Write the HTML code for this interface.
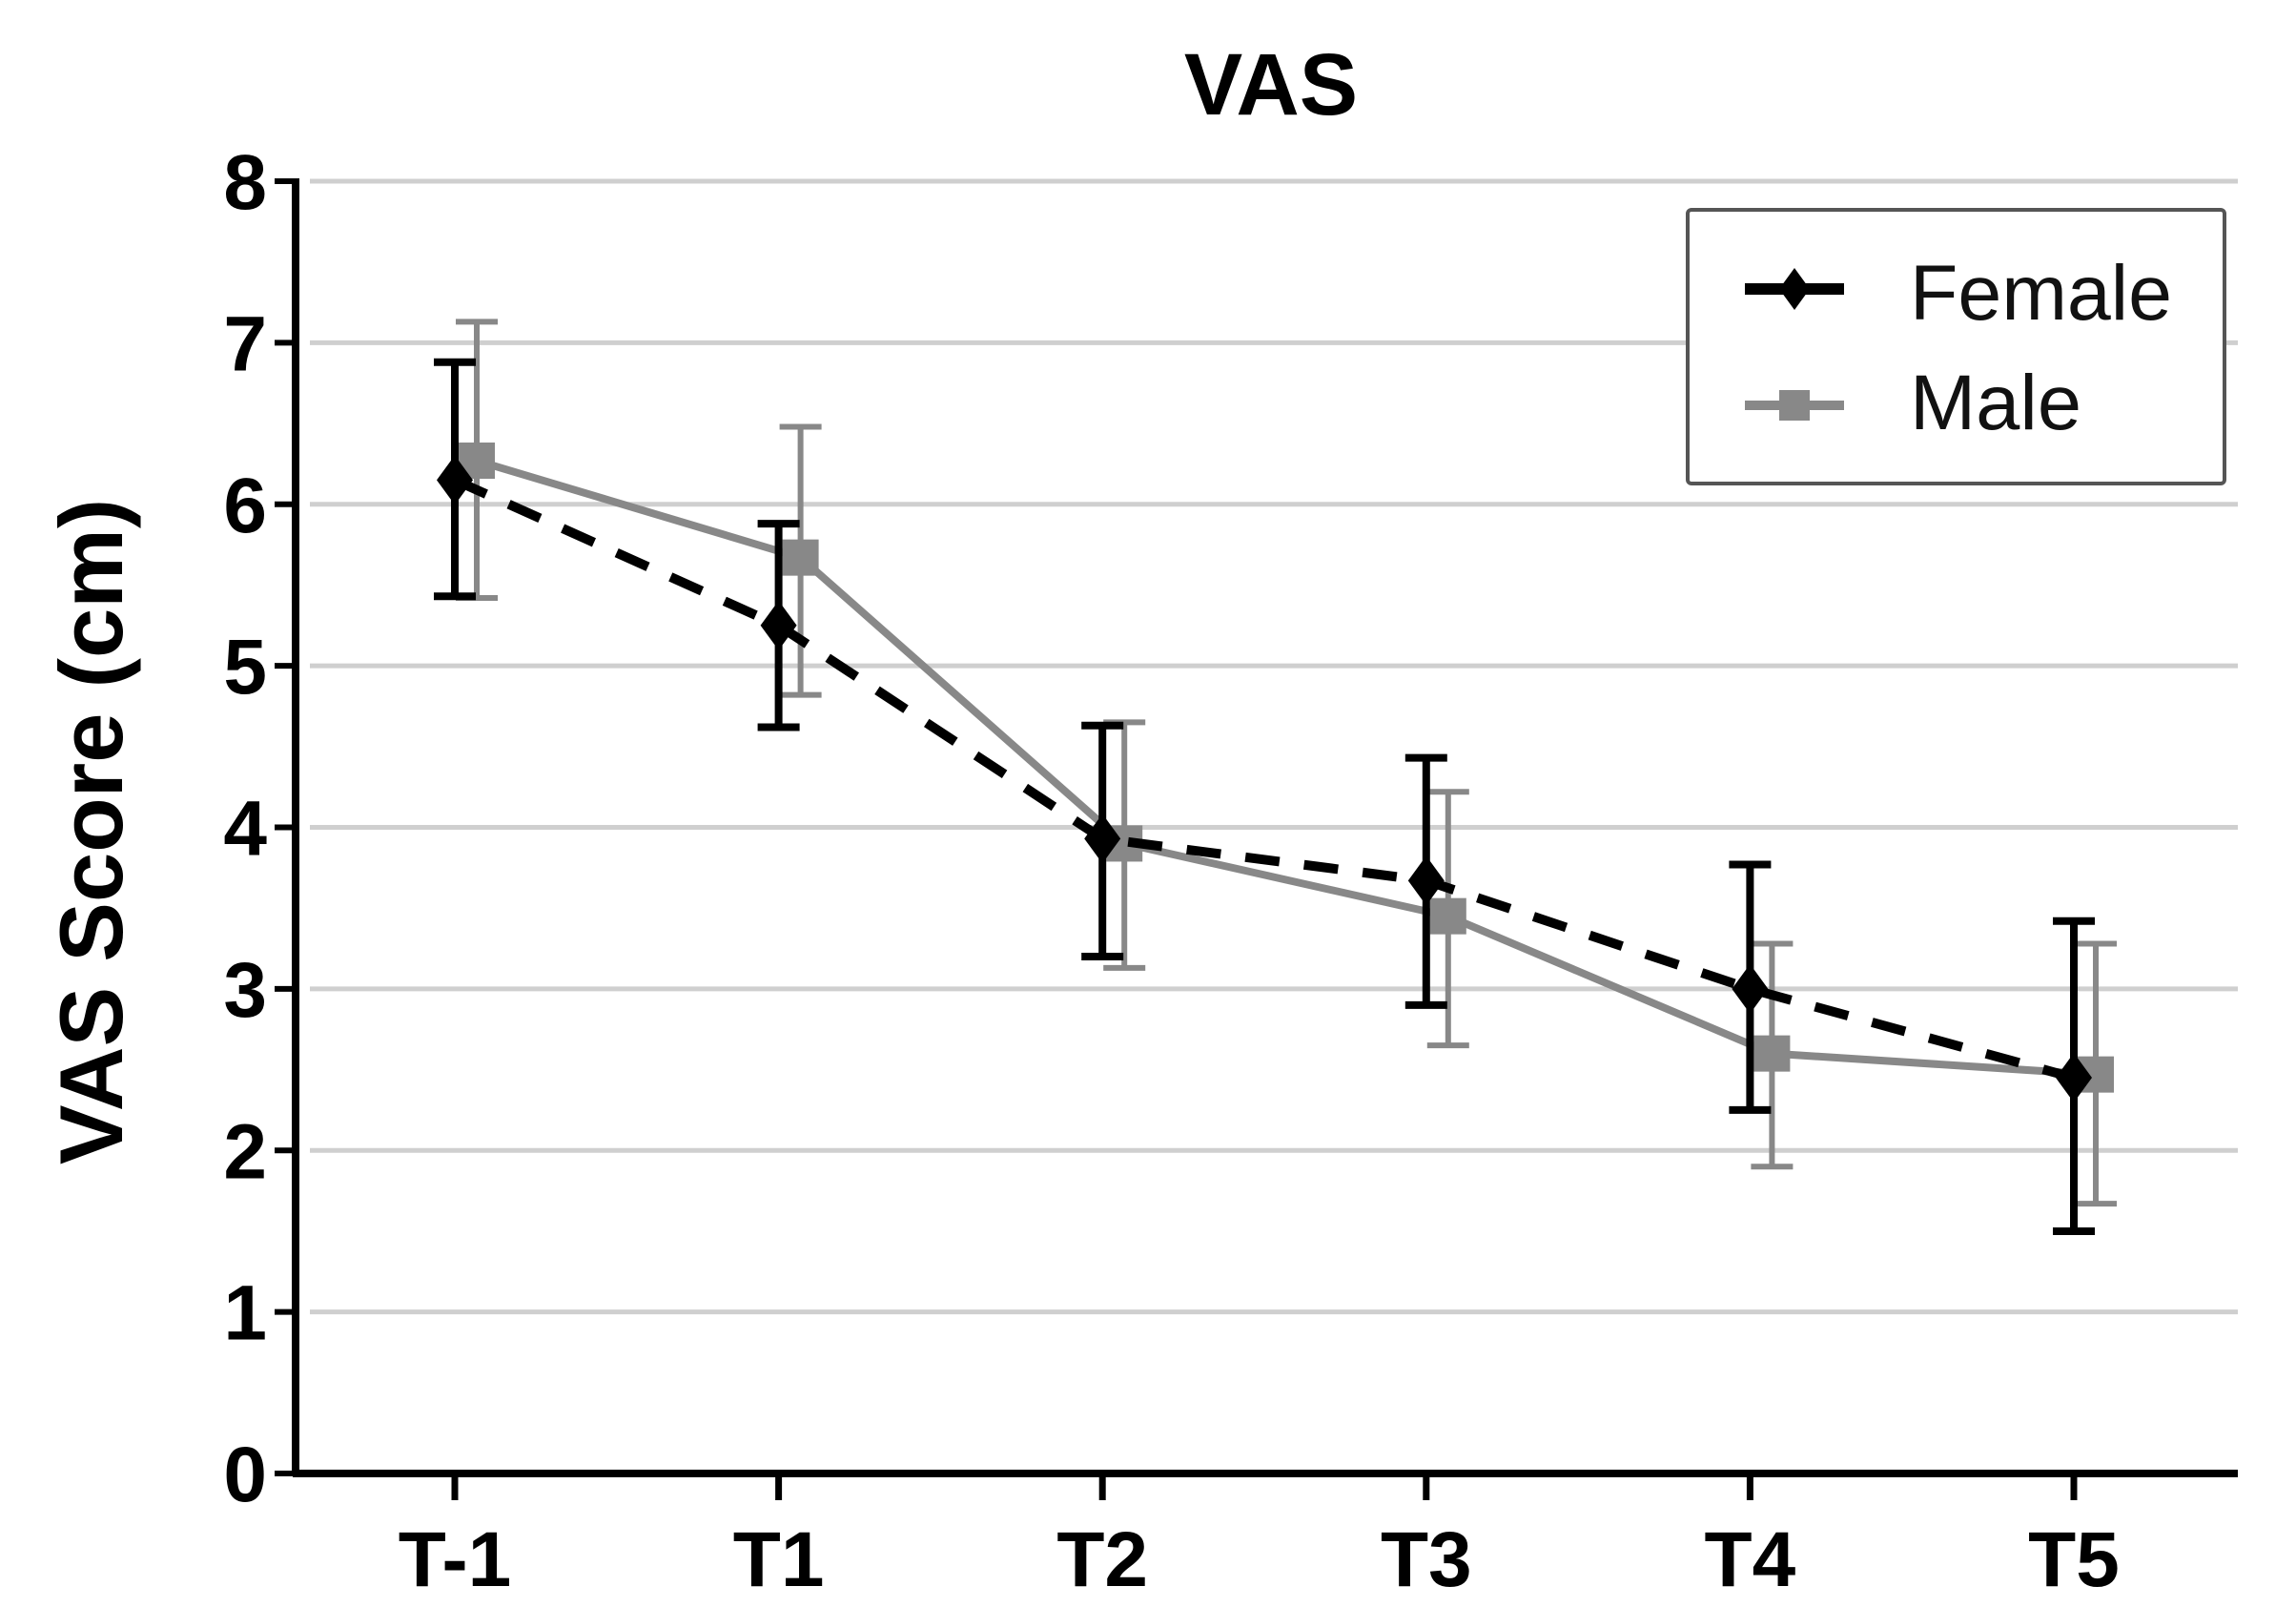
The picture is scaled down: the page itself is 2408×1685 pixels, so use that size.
<!DOCTYPE html>
<html><head><meta charset="utf-8"><style>
html,body{margin:0;padding:0;background:#fff;}
svg{display:block;font-family:"Liberation Sans",Arial,sans-serif;}
</style></head><body>
<svg id="chart" width="2408" height="1685" viewBox="0 0 2408 1685">
<text x="1333" y="120" font-size="92" font-weight="bold" text-anchor="middle">VAS</text>
<text transform="translate(128,872) rotate(-90)" font-size="94" font-weight="bold" text-anchor="middle">VAS Score (cm)</text>
<g id="grid"></g>
<g id="axes"></g>
<g id="series"></g>
<g>
<rect x="1770" y="220" width="563" height="287" fill="#fff" stroke="#555" stroke-width="4" rx="4"/>
<g>
<line x1="1830" y1="303" x2="1934" y2="303" stroke="#000" stroke-width="12"/>
<polygon points="1882,281 1898,303 1882,325 1866,303" fill="#000"/>
<text x="2003" y="335" font-size="82" fill="#111" textLength="275" lengthAdjust="spacingAndGlyphs">Female</text>
</g>
<g>
<line x1="1830" y1="425" x2="1934" y2="425" stroke="#888" stroke-width="10"/>
<rect x="1866" y="409" width="32" height="32" fill="#888"/>
<text x="2003" y="450" font-size="82" fill="#111" textLength="180" lengthAdjust="spacingAndGlyphs">Male</text>
</g>
</g>
</svg>
<script>
const categories = ["T-1","T1","T2","T3","T4","T5"];
const yTicks = [0,1,2,3,4,5,6,7,8];
const femaleMean = [6.15,5.25,3.93,3.67,3.0,2.45];
const femaleLow = [5.43,4.62,3.2,2.9,2.25,1.5];
const femaleHigh = [6.88,5.88,4.63,4.43,3.77,3.42];
const maleMean = [6.27,5.67,3.9,3.45,2.6,2.47];
const maleLow = [5.42,4.82,3.13,2.65,1.9,1.67];
const maleHigh = [7.13,6.48,4.65,4.22,3.28,3.28];

const NS = "http://www.w3.org/2000/svg";
const X0 = 310, X1 = 2347, Y0 = 1545, Y8 = 190;
function yPos(v){ return Y0 - (v/8)*(Y0-Y8); }
function xPos(i){ return 477 + i*339.6; }
function mk(tag, attrs, parent){ const e=document.createElementNS(NS,tag); for(const k in attrs) e.setAttribute(k,attrs[k]); parent.appendChild(e); return e; }

const grid=document.getElementById('grid'), axes=document.getElementById('axes'), series=document.getElementById('series');
yTicks.forEach(v=>{
  if(v>0){
    const g=mk('line',{x1:X0+15,x2:X1,y1:yPos(v),y2:yPos(v),stroke:'#cfcfcf','stroke-width':5},grid);
    
    
  }
  mk('line',{x1:X0-22,x2:X0,y1:yPos(v),y2:yPos(v),stroke:'#000','stroke-width':6},axes);
  const t=mk('text',{x:X0-30,y:yPos(v)+29,'font-size':82,'font-weight':'bold','text-anchor':'end'},axes);
  t.textContent=v;
  
  
});
mk('line',{x1:X0,x2:X0,y1:Y8-3,y2:Y0+3,stroke:'#000','stroke-width':8},axes);
mk('line',{x1:X0-3,x2:X1,y1:Y0,y2:Y0,stroke:'#000','stroke-width':8},axes);
categories.forEach((c,i)=>{
  mk('line',{x1:xPos(i),x2:xPos(i),y1:Y0,y2:Y0+28,stroke:'#000','stroke-width':7},axes);
  const t=mk('text',{x:xPos(i),y:1663,'font-size':82,'font-weight':'bold','text-anchor':'middle'},axes);
  t.textContent=c;
  
  
});

function drawSeries(name, mean, lo, hi, off, color, dash, marker){
  const g=mk('g',{},series);
  
  
  mean.forEach((m,i)=>{
    const x=xPos(i)+off;
    const eb=mk('path',{d:`M${x-22},${yPos(hi[i])}H${x+22}M${x},${yPos(hi[i])}V${yPos(lo[i])}M${x-22},${yPos(lo[i])}H${x+22}`,stroke:color,'stroke-width':name==='female'?8:6,fill:'none'},g);
    
    
  });
  const pts=mean.map((m,i)=>`${xPos(i)+off},${yPos(m)}`).join(' ');
  const ln=mk('polyline',{points:pts,fill:'none',stroke:color,'stroke-width':name==='female'?10:8,'stroke-dasharray':dash},g);
  
  
  mean.forEach((m,i)=>{
    const x=xPos(i)+off, y=yPos(m);
    let p;
    if(marker==='diamond') p=mk('polygon',{points:`${x},${y-26} ${x+19},${y} ${x},${y+26} ${x-19},${y}`,fill:color},g);
    else p=mk('rect',{x:x-19,y:y-19,width:38,height:38,fill:color},g);
    
    
  });
}
drawSeries('male',maleMean,maleLow,maleHigh,23,'#888','none','square');
drawSeries('female',femaleMean,femaleLow,femaleHigh,0,'#000','36 26','diamond');
</script>
</body></html>
